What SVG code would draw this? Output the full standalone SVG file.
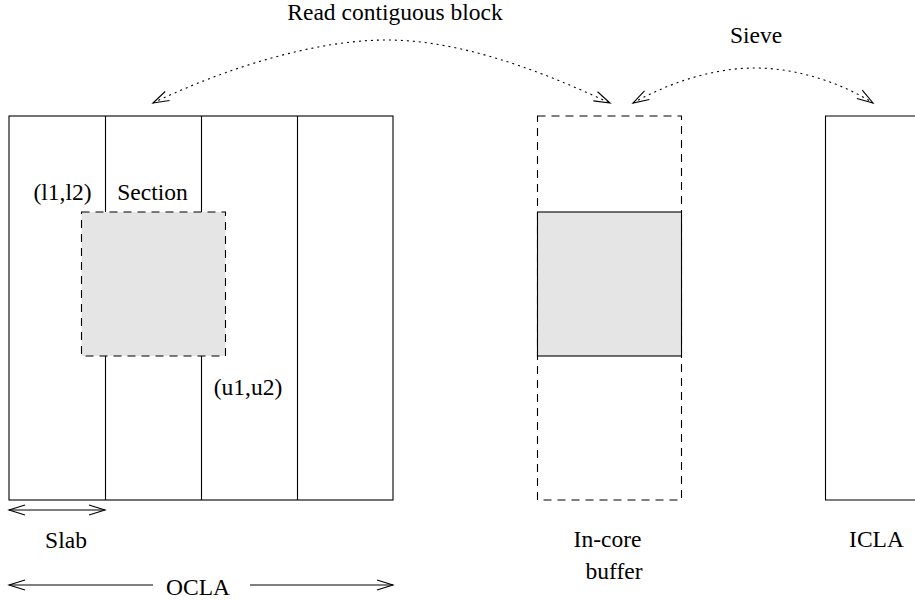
<svg xmlns="http://www.w3.org/2000/svg" width="915" height="600" viewBox="0 0 915 600" font-family="Liberation Serif, DejaVu Serif, serif" font-size="23.5">
<style>
text{font-family:'Liberation Serif','DejaVu Serif',serif;font-size:23.5px;fill:#000;text-anchor:middle}
.ln{fill:none;stroke:#000;stroke-width:1.1}
.dash{fill:none;stroke:#000;stroke-width:1.1;stroke-dasharray:8 6}
.dot{fill:none;stroke:#000;stroke-width:1.1;stroke-dasharray:2 4}
.gray{fill:#e5e5e5}
</style>
<defs>
<marker id="ah" markerUnits="userSpaceOnUse" viewBox="-18 -7 20 14" markerWidth="20" markerHeight="14" refX="0" refY="0" orient="auto-start-reverse" overflow="visible">
<path d="M-16,-5 L0,0 L-16,5" fill="none" stroke="#000" stroke-width="1.1"/>
</marker>
</defs>
<g id="ocla">
<rect x="9" y="116" width="384" height="384" class="ln"/>
<line x1="105.5" y1="116" x2="105.5" y2="212" class="ln"/>
<line x1="105.5" y1="356" x2="105.5" y2="500" class="ln"/>
<line x1="201.5" y1="116" x2="201.5" y2="212" class="ln"/>
<line x1="201.5" y1="356" x2="201.5" y2="500" class="ln"/>
<line x1="297.5" y1="116" x2="297.5" y2="500" class="ln"/>
</g>
<g id="section">
<rect x="81.5" y="212" width="144" height="144" class="gray"/>
<rect x="81.5" y="212" width="144" height="144" class="dash"/>
<text x="62.5" y="200" font-family="Liberation Serif, serif">(l1,l2)</text>
<text x="152.5" y="200" font-family="Liberation Serif, serif">Section</text>
<text x="248" y="395" font-family="Liberation Serif, serif">(u1,u2)</text>
</g>
<g id="buffer">
<rect x="537.5" y="116" width="144" height="384" class="dash"/>
<rect x="537.5" y="212" width="144" height="144" class="gray"/>
<rect x="537.5" y="212" width="144" height="144" class="ln"/>
<text x="607.5" y="547" font-family="Liberation Serif, serif">In-core</text>
<text x="614" y="579" font-family="Liberation Serif, serif">buffer</text>
</g>
<g id="icla">
<path d="M918,116 H825.5 V500 H918" class="ln"/>
<text x="876.5" y="547" font-family="Liberation Serif, serif">ICLA</text>
</g>
<g id="labels">
<text x="395" y="20" font-family="Liberation Serif, serif">Read contiguous block</text>
<text x="756" y="43" font-family="Liberation Serif, serif">Sieve</text>
<text x="66" y="548" font-family="Liberation Serif, serif">Slab</text>
<text x="198" y="595" font-family="Liberation Serif, serif">OCLA</text>
</g>
<g id="connectors">
<path d="M153,103 C200,80 300,40 387,40 C470,40 560,80 610,103" class="dot" marker-start="url(#ah)" marker-end="url(#ah)"/>
<path d="M633,103 C665,85 710,68 755,68 C800,68 845,85 873,103" class="dot" marker-start="url(#ah)" marker-end="url(#ah)"/>
<line x1="9" y1="510" x2="105" y2="510" class="ln" marker-start="url(#ah)" marker-end="url(#ah)"/>
<line x1="153" y1="585" x2="9" y2="585" class="ln" marker-end="url(#ah)"/>
<line x1="250" y1="585" x2="393" y2="585" class="ln" marker-end="url(#ah)"/>
</g>
</svg>
